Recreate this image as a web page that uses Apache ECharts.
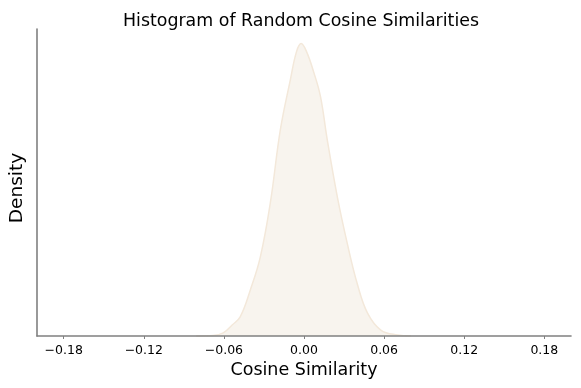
<!DOCTYPE html>
<html>
<head>
    <meta charset="utf-8">
    <title>Histogram of Random Cosine Similarities</title>
    <script src="https://cdn.jsdelivr.net/npm/echarts@6/dist/echarts.min.js"></script>
    <style type="text/css">
        * { margin: 0; padding: 0; }
        body { background: #ffffff; }
    </style>
</head>
<body>
<div id="main" style="width: 581px; height: 388px;"></div>
<script type="text/javascript">
    // density curve
    var simValues = [-0.0808, -0.0681, -0.0605, -0.0538, -0.0478, -0.0402, -0.0327, -0.0252, -0.0177, -0.0102,
                     -0.0056, -0.0021, 0.0019, 0.0074, 0.0124, 0.0174, 0.0250, 0.0325, 0.0400, 0.0475,
                     0.0575, 0.0701, 0.0801];
    var densityValues = [0, 0.03, 0.19, 0.68, 1.18, 2.85, 4.9, 8.25, 12.77, 15.87,
                         17.6, 18.1, 17.6, 16.3, 14.8, 12.15, 8.6, 5.7, 3.2, 1.43,
                         0.37, 0.06, 0];
    var xTicks = [-0.18, -0.12, -0.06, 0.00, 0.06, 0.12, 0.18];

    var myChart = echarts.init(document.getElementById('main'));

    var points = simValues.map(function (v, i) { return [v, densityValues[i]]; });

    var font = '"DejaVu Sans", sans-serif';

    var option = {
        animation: false,
        title: {
            text: 'Histogram of Random Cosine Similarities',
            left: 296,
            top: 8,
            textAlign: 'center',
            textStyle: { fontFamily: font, fontSize: 17.4, fontWeight: 'normal', color: '#000' }
        },
        grid: { left: 36, right: 10, top: 29, bottom: 52 },
        xAxis: {
            type: 'value',
            min: -0.2,
            max: 0.2,
            z: 5,
            name: 'Cosine Similarity',
            nameLocation: 'middle',
            nameGap: 25,
            nameTextStyle: { fontFamily: font, fontSize: 17.5, color: '#000' },
            axisLine: { lineStyle: { color: '#808080', width: 1.6 } },
            axisTick: { show: true, customValues: xTicks, length: 3, lineStyle: { color: '#808080' } },
            axisLabel: {
                customValues: xTicks,
                fontFamily: font,
                fontSize: 12.5,
                color: '#000',
                margin: 8,
                formatter: function (v) { return v.toFixed(2).replace('-', '\u2212'); }
            },
            splitLine: { show: false }
        },
        yAxis: {
            type: 'value',
            min: 0,
            max: 19,
            z: 5,
            name: 'Density',
            nameLocation: 'middle',
            nameGap: 10,
            nameTextStyle: { fontFamily: font, fontSize: 18.5, color: '#000', padding: [0, 11, 0, 0] },
            axisLine: { show: true, onZero: false, lineStyle: { color: '#808080', width: 1.6 } },
            axisTick: { show: false },
            axisLabel: { show: false },
            splitLine: { show: false }
        },
        series: [{
            type: 'line',
            data: points,
            smooth: 0.4,
            symbol: 'none',
            lineStyle: { color: '#F3E8DA', width: 1.5 },
            areaStyle: { color: '#F8F4EE', opacity: 1 },
            z: 1
        }]
    };
    myChart.setOption(option);

    window.addEventListener('resize', function () {
        myChart.resize();
    });
</script>
</body>
</html>
